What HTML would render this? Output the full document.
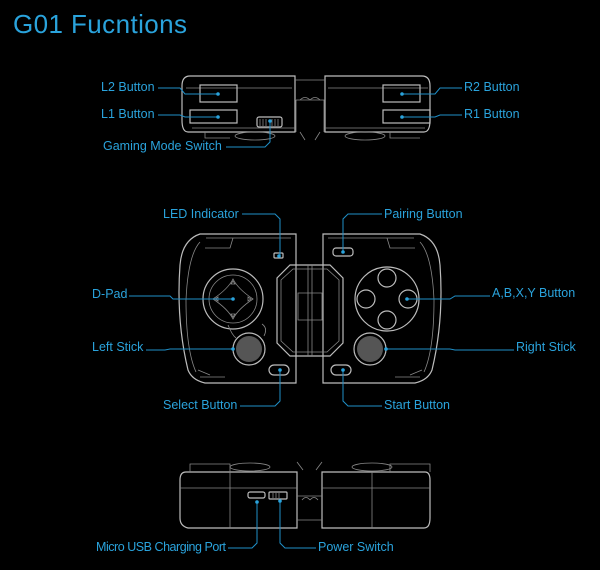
<!DOCTYPE html>
<html><head><meta charset="utf-8"><style>
html,body{margin:0;padding:0;background:#000;width:600px;height:570px;overflow:hidden}
svg{display:block}
text{font-family:"Liberation Sans",sans-serif;fill:#2aa3dc;font-size:12.5px}
.b{fill:none;stroke:#bcbcbc;stroke-width:1.2}
.t{fill:none;stroke:#888;stroke-width:0.8}
.l{fill:none;stroke:#1f8fc8;stroke-width:1}
.d{fill:#2aa3dc}
</style></head><body>
<svg width="600" height="570" viewBox="0 0 600 570">
<text x="13" y="33" style="font-size:26px" textLength="174">G01 Fucntions</text>

<!-- TOP VIEW -->
<path class="b" d="M190 76 H295 V132 H188 Q182 132 182 120 V86 Q182 76 190 76 Z"/>
<path class="b" d="M325 76 H422 Q430 76 430 86 V120 Q430 132 424 132 H325 Z"/>
<path class="t" d="M295 80 H325 M296 100 H324 V132 M296 100 V132 M300 100 Q305 95 310 100 M310 100 Q315 95 320 100"/>
<path class="t" d="M192 128 H295 M325 128 H425 M186 88 H292 M328 88 H428"/>
<rect class="b" x="200" y="85" width="37" height="17"/>
<rect class="b" x="190" y="110" width="47" height="13"/>
<rect class="b" x="383" y="85" width="37" height="17"/>
<rect class="b" x="383" y="110" width="47" height="13"/>
<rect class="b" x="257" y="117" width="25" height="10" rx="2"/>
<path class="t" d="M260 119 V126 M263 119 V126 M266 119 V126 M272 119 V126 M275 119 V126 M278 119 V126"/>
<ellipse class="t" cx="255" cy="136" rx="20" ry="4"/><ellipse class="t" cx="365" cy="136" rx="20" ry="4"/>
<path class="t" d="M205 132 V138 H230 M300 132 L305 140 M320 132 L315 140 M390 132 V138 H420"/>

<text x="101" y="91">L2 Button</text>
<path class="l" d="M158 88 H180 L185 94 H218"/><circle class="d" cx="218" cy="94" r="1.8"/>
<text x="101" y="118">L1 Button</text>
<path class="l" d="M158 115 H180 L185 117 H218"/><circle class="d" cx="218" cy="117" r="1.8"/>
<text x="464" y="91">R2 Button</text>
<path class="l" d="M462 88 H440 L435 94 H402"/><circle class="d" cx="402" cy="94" r="1.8"/>
<text x="464" y="118">R1 Button</text>
<path class="l" d="M462 115 H440 L435 117 H402"/><circle class="d" cx="402" cy="117" r="1.8"/>
<text x="103" y="150">Gaming Mode Switch</text>
<path class="l" d="M226 147 H265 L270 142 V121"/><circle class="d" cx="270" cy="121" r="1.8"/>

<!-- FRONT VIEW -->
<path class="b" d="M200 234 H296 V383 H205 Q192 380 188 370 Q176 320 180 265 Q182 240 200 234 Z"/>
<path class="t" d="M206 238 H291 M200 242 Q188 255 186 300 Q186 350 196 372 M233 238 L230 248 H205"/>
<path class="b" d="M420 234 H323 V383 H415 Q428 380 432 370 Q444 320 440 265 Q438 240 420 234 Z"/>
<path class="t" d="M414 238 H328 M420 242 Q432 255 434 300 Q434 350 424 372 M387 238 L390 248 H415"/>
<path class="b" d="M290 265 H330 L343 278 V343 L330 356 H290 L277 343 V278 Z"/>
<path class="t" d="M293 269 H327 L339 280 V341 L327 352 H293 L281 341 V280 Z M308 265 V356 M312 265 V356 M298 293 H322 V320 H298 Z"/>
<path class="t" d="M200 377 H225 M395 377 H420 M198 370 L210 375 M422 370 L410 375"/>
<circle class="b" cx="233" cy="299" r="30"/>
<path class="t" d="M233 279 Q238 289 253 299 Q238 309 233 319 Q228 309 213 299 Q228 289 233 279 Z"/>
<circle class="t" cx="233" cy="299" r="24"/>
<path class="t" d="M231 284 L233 281 L235 284 Z M231 314 L233 317 L235 314 Z M218 297 L215 299 L218 301 Z M248 297 L251 299 L248 301 Z"/>
<circle class="b" cx="249" cy="349" r="16"/><circle cx="249" cy="349" r="13" fill="#555"/>
<path class="t" d="M228 325 Q232 335 236 338 M264 336 Q268 328 262 324"/>
<rect class="b" x="269" y="365" width="20" height="10" rx="5"/>
<rect class="b" x="274" y="253" width="9" height="5" rx="1"/>
<rect class="b" x="333" y="248" width="20" height="8" rx="3"/>
<circle class="b" cx="387" cy="299" r="32"/>
<circle class="b" cx="387" cy="278" r="9"/><circle class="b" cx="387" cy="320" r="9"/>
<circle class="b" cx="366" cy="299" r="9"/><circle class="b" cx="408" cy="299" r="9"/>
<circle class="b" cx="370" cy="349" r="16"/><circle cx="370" cy="349" r="13" fill="#555"/>
<rect class="b" x="331" y="365" width="20" height="10" rx="5"/>

<text x="163" y="218">LED Indicator</text>
<path class="l" d="M242 214 H275 L280 219 V256"/><circle class="d" cx="279" cy="256" r="1.8"/>
<text x="384" y="218">Pairing Button</text>
<path class="l" d="M382 214 H348 L343 219 V252"/><circle class="d" cx="343" cy="252" r="1.8"/>
<text x="92" y="298">D-Pad</text>
<path class="l" d="M129 296 H170 L173 299 H233"/><circle class="d" cx="233" cy="299" r="1.8"/>
<text x="92" y="351">Left Stick</text>
<path class="l" d="M146 350 H165 L170 349 H233"/><circle class="d" cx="233" cy="349" r="1.8"/>
<text x="492" y="297">A,B,X,Y Button</text>
<path class="l" d="M490 296 H455 L450 299 H407"/><circle class="d" cx="407" cy="299" r="1.8"/>
<text x="516" y="351">Right Stick</text>
<path class="l" d="M514 350 H455 L450 349 H386"/><circle class="d" cx="386" cy="349" r="1.8"/>
<text x="163" y="409">Select Button</text>
<path class="l" d="M240 406 H275 L280 401 V370"/><circle class="d" cx="280" cy="370" r="1.8"/>
<text x="384" y="409">Start Button</text>
<path class="l" d="M382 406 H348 L343 401 V370"/><circle class="d" cx="343" cy="370" r="1.8"/>

<!-- BOTTOM VIEW -->
<path class="b" d="M186 472 H297 V528 H188 Q180 526 180 518 V480 Q180 472 186 472 Z"/>
<path class="b" d="M322 472 H425 Q430 472 430 480 V518 Q430 528 424 528 H322 Z"/>
<path class="t" d="M180 488 H297 M322 488 H430 M230 472 V528 M372 472 V528 M190 472 V464 H230 V472 M390 472 V464 H430 V472 M297 496 H322 M297 520 H322"/>
<ellipse class="t" cx="250" cy="467" rx="20" ry="4"/><ellipse class="t" cx="372" cy="467" rx="20" ry="4"/>
<path class="t" d="M297 462 L303 470 M322 462 L316 470 M302 500 Q306 495 310 500 M310 500 Q314 495 318 500"/>
<rect class="b" x="248" y="492" width="17" height="6" rx="2"/>
<rect class="b" x="269" y="492" width="18" height="7" rx="1"/>
<path class="t" d="M273 493 V498 M276 493 V498 M279 493 V498"/>

<text x="96" y="551" textLength="130">Micro USB Charging Port</text>
<path class="l" d="M228 548 H252 L257 543 V502"/><circle class="d" cx="257" cy="502" r="1.8"/>
<text x="318" y="551">Power Switch</text>
<path class="l" d="M316 548 H285 L280 543 V501"/><circle class="d" cx="280" cy="501" r="1.8"/>
</svg>
</body></html>
